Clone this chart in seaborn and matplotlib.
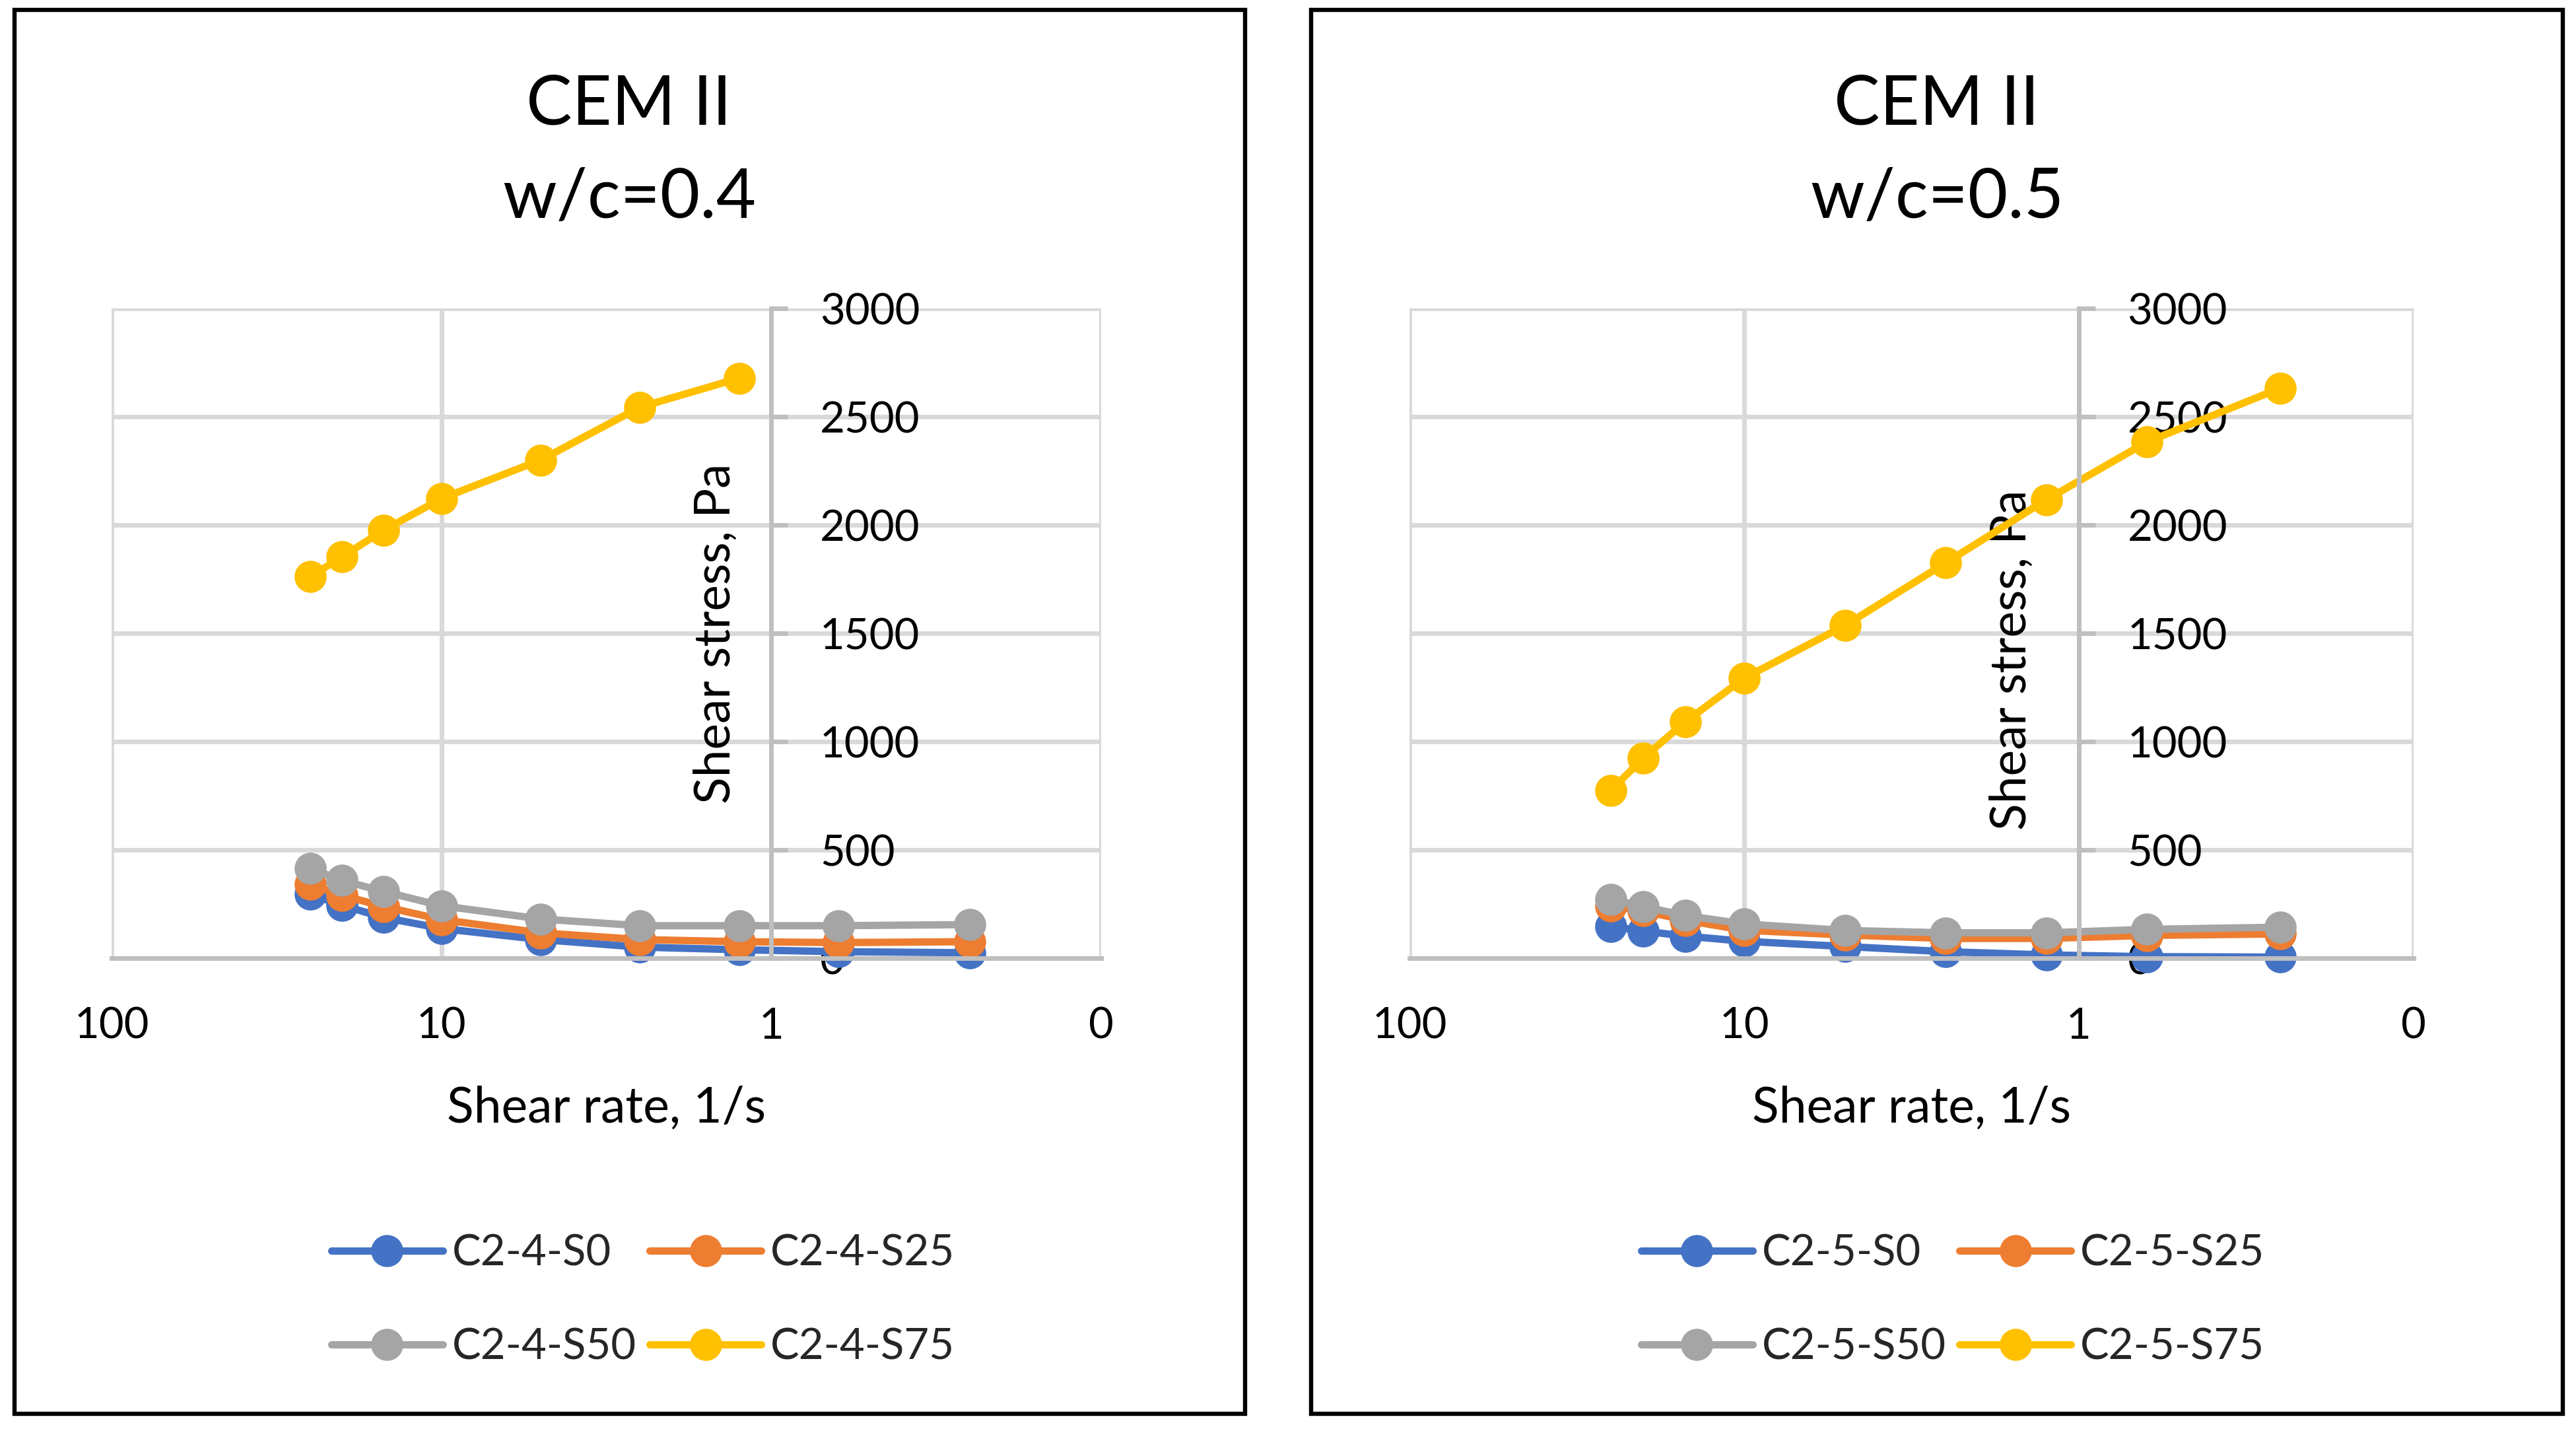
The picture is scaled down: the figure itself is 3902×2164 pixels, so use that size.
import numpy as np
import pandas as pd
import matplotlib
matplotlib.use("Agg")
import matplotlib.pyplot as plt
import seaborn as sns
from matplotlib.patches import Rectangle
from matplotlib.ticker import NullLocator

# ---------------- data ----------------
shear_rate = [25, 20, 15, 10, 5, 2.5, 1.25, 0.625, 0.25]

left_names = ["C2-4-S0", "C2-4-S25", "C2-4-S50", "C2-4-S75"]
left_s0 = [295, 244, 188, 137, 86, 51, 39, 30, 25]
left_s25 = [341, 290, 239, 178, 117, 86, 76, 72, 76]
left_s50 = [415, 359, 308, 242, 181, 150, 150, 150, 155]
left_s75 = [1761, 1853, 1975, 2122, 2300, 2544, 2678]

right_names = ["C2-5-S0", "C2-5-S25", "C2-5-S50", "C2-5-S75"]
right_s0 = [147, 125, 102, 78, 54, 30, 15, 7, 5]
right_s25 = [240, 218, 175, 129, 107, 91, 91, 105, 112]
right_s50 = [272, 238, 197, 158, 128, 117, 117, 133, 143]
right_s75 = [775, 925, 1091, 1293, 1536, 1825, 2117, 2384, 2632]

titles = ["CEM II\nw/c=0.4", "CEM II\nw/c=0.5"]
x_label = "Shear rate, 1/s"
y_label = "Shear stress, Pa"
x_ticks = [100, 10, 1, 0.1]
x_tick_labels = ["100", "10", "1", "0"]
y_ticks = [0, 500, 1000, 1500, 2000, 2500, 3000]

colors = ["#4472C4", "#ED7D31", "#A5A5A5", "#FFC000"]

# ---------------- style ----------------
sns.set_theme(style="white")
plt.rcParams['font.family'] = ['Lato', 'DejaVu Sans']

W, H = 3902, 2164
fig = plt.figure(figsize=(W / 100, H / 100), dpi=100)
fig.patch.set_facecolor("white")

panels = [
    dict(names=left_names, values=[left_s0, left_s25, left_s50, left_s75],
         rect=[169 / W, 1 - 1451 / H, 1499 / W, 984 / H],
         title=titles[0], title_x=0.523, ylab=(0.6107, 0.5),
         leg=(974 / W, 1 - 1969 / H),
         border=(22, 1886)),
    dict(names=right_names, values=[right_s0, right_s25, right_s50, right_s75],
         rect=[2135 / W, 1 - 1451 / H, 1521 / W, 984 / H],
         title=titles[1], title_x=0.5253, ylab=(0.600, 0.4593),
         leg=(2958 / W, 1 - 1969 / H),
         border=(1986, 3882)),
]

grid_c = "#D9D9D9"
axis_c = "#BFBFBF"

for p in panels:
    ax = fig.add_axes(p["rect"])
    ax.set_xscale("log")
    for name, vals, col in zip(p["names"], p["values"], colors):
        n = len(vals)
        sns.lineplot(x=shear_rate[:n], y=vals, color=col, label=name,
                     marker="o", markersize=35, markeredgewidth=0,
                     linewidth=8, ax=ax, sort=False, estimator=None,
                     errorbar=None)
    for ln in ax.get_lines():
        ln.set_clip_on(False)
        ln.set_linewidth(8)
        ln.set_solid_capstyle("round")
        ln.set_solid_joinstyle("round")

    ax.set_xlim(100, 0.1)
    ax.set_ylim(0, 3000)
    ax.set_xticks(x_ticks)
    ax.set_xticklabels(x_tick_labels)
    ax.xaxis.set_minor_locator(NullLocator())
    ax.set_yticks(y_ticks)
    ax.set_yticklabels([str(v) for v in y_ticks])

    ax.grid(True, which="major", color=grid_c, linewidth=5)
    ax.set_axisbelow(True)

    for s in ["top", "left"]:
        ax.spines[s].set_visible(False)
    ax.spines["bottom"].set_color(axis_c)
    ax.spines["bottom"].set_linewidth(5)
    ax.spines["right"].set_position(("data", 1))
    ax.spines["right"].set_color(axis_c)
    ax.spines["right"].set_linewidth(5)

    ax.yaxis.tick_right()
    ax.tick_params(axis="y", which="major", direction="out", length=18,
                   width=5, color=axis_c, pad=35, labelsize=47,
                   labelcolor="black")
    ax.tick_params(axis="x", which="both", length=0, pad=53, labelsize=47,
                   labelcolor="black")

    ax.set_xlabel(x_label, fontsize=54, color="black", labelpad=43)
    ax.set_ylabel(y_label, fontsize=54, color="black")
    ax.yaxis.set_label_coords(*p["ylab"])
    ax.yaxis.label.set_verticalalignment("center")

    ax.set_title(p["title"], x=p["title_x"], y=(1451 - 330) / 984, pad=0,
                 fontsize=75, linespacing=1.6, color="black")

    h, l = ax.get_legend_handles_labels()
    order = [0, 2, 1, 3]
    ax.legend([h[i] for i in order], [l[i] for i in order], ncol=2,
              loc="center", bbox_to_anchor=p["leg"],
              bbox_transform=fig.transFigure, frameon=False, fontsize=47,
              handlelength=2.6, handletextpad=0.21, columnspacing=0.3,
              labelspacing=1.27, borderpad=0)

    x0, x1 = p["border"]
    fig.add_artist(Rectangle((x0 / W, 1 - 2141 / H), (x1 - x0) / W,
                             (2141 - 15) / H, transform=fig.transFigure,
                             fill=False, edgecolor="black", linewidth=4.6))

fig.savefig("out.png", dpi=100)
